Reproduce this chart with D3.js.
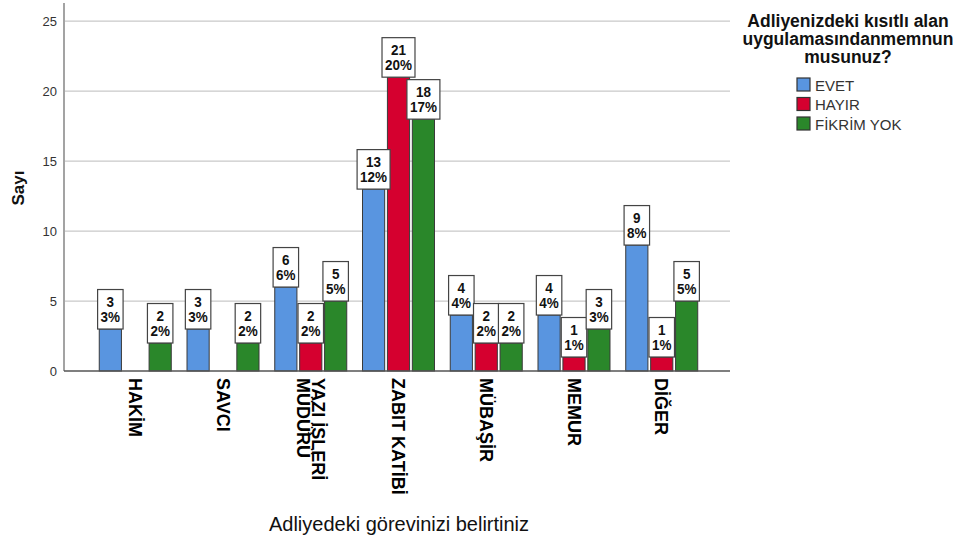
<!DOCTYPE html>
<html><head><meta charset="utf-8">
<script src="https://cdn.jsdelivr.net/npm/d3@7"></script>
<style>
html,body{margin:0;padding:0;background:#fff;}
svg{display:block;}
</style>
</head><body>
<svg id="chart" width="968" height="539"></svg>
<script>
// ---- data ----
const categories = ["HAKİM", "SAVCI", "YAZI İŞLERİ MÜDÜRÜ", "ZABIT KATİBİ", "MÜBAŞİR", "MEMUR", "DİĞER"];
const seriesNames = ["EVET", "HAYIR", "FİKRİM YOK"];
const evetValues  = [3, 3, 6, 13, 4, 4, 9];
const hayirValues = [0, 0, 2, 21, 2, 1, 1];
const fikrimValues = [2, 2, 5, 18, 2, 3, 5];
const evetPct  = ["3%", "3%", "6%", "12%", "4%", "4%", "8%"];
const hayirPct = ["", "", "2%", "20%", "2%", "1%", "1%"];
const fikrimPct = ["2%", "2%", "5%", "17%", "2%", "3%", "5%"];
const yTicks = [0, 5, 10, 15, 20, 25];
const yTitle = "Sayı";
const xTitle = "Adliyedeki görevinizi belirtiniz";
const legendTitle = ["Adliyenizdeki kısıtlı alan", "uygulamasındanmemnun", "musunuz?"];

const colors = {"EVET": "#5995e0", "HAYIR": "#d5002f", "FİKRİM YOK": "#2a872a"};
const seriesValues = {"EVET": evetValues, "HAYIR": hayirValues, "FİKRİM YOK": fikrimValues};
const seriesPct = {"EVET": evetPct, "HAYIR": hayirPct, "FİKRİM YOK": fikrimPct};

const svg = d3.select("#chart");
const pLeft = 64, pRight = 730, pBottom = 371, pTop = 3;

const y = d3.scaleLinear().domain([0, 26.3]).range([pBottom, pTop]);
const x0 = d3.scaleBand().domain(categories).range([pLeft + 1.5, pRight + 1.5]).paddingInner(0).paddingOuter(0.295);
const gw = 73;
const x1 = d3.scaleBand().domain(seriesNames)
  .range([(x0.bandwidth() - gw) / 2, (x0.bandwidth() + gw) / 2]).paddingInner(0.07).paddingOuter(0.0);

// gridlines
svg.append("g").selectAll("line").data(yTicks.filter(t => t > 0)).join("line")
  .attr("x1", pLeft + 1).attr("x2", pRight)
  .attr("y1", d => y(d)).attr("y2", d => y(d))
  .attr("stroke", "#c9c9c9").attr("stroke-width", 1.3);

// y axis
const yAxis = d3.axisLeft(y).tickValues(yTicks).tickSize(0).tickPadding(7);
const gy = svg.append("g").attr("transform", `translate(${pLeft},0)`).call(yAxis);
gy.select(".domain").remove();
gy.selectAll("text").attr("font-family", "Liberation Sans, Arial, sans-serif")
  .attr("font-size", 13).attr("fill", "#333");
svg.append("line").attr("x1", pLeft).attr("x2", pLeft).attr("y1", pTop).attr("y2", pBottom)
  .attr("stroke", "#8c8c8c").attr("stroke-width", 1.6);

// bars
const groups = svg.append("g").selectAll("g").data(categories).join("g")
  .attr("transform", d => `translate(${x0(d)},0)`);

const barData = (c, i) => seriesNames.map(s => ({s, v: seriesValues[s][i], p: seriesPct[s][i]}));

groups.each(function(c, i) {
  const g = d3.select(this);
  const data = barData(c, i).filter(d => d.v > 0);
  g.selectAll("rect.bar").data(data).join("rect").attr("class", "bar")
    .attr("x", d => x1(d.s) + 0.5).attr("width", x1.bandwidth() - 1)
    .attr("y", d => y(d.v)).attr("height", d => y(0) - y(d.v))
    .attr("fill", d => colors[d.s]).attr("stroke", "#3a3a3a").attr("stroke-width", 1);
});

// x axis line
svg.append("line").attr("x1", pLeft).attr("x2", pRight).attr("y1", pBottom).attr("y2", pBottom)
  .attr("stroke", "#555").attr("stroke-width", 1.5);

// value labels
const sx = 0.87;
groups.each(function(c, i) {
  const g = d3.select(this);
  const data = barData(c, i).filter(d => d.v > 0);
  data.forEach(d => {
    const cx = x1(d.s) + x1.bandwidth() / 2;
    const top0 = y(d.v) - 39.5;
    const lg = g.append("g");
    const rect = lg.append("rect");
    const t = lg.append("text")
      .attr("transform", `translate(${cx},${top0}) scale(${sx},1)`)
      .attr("text-anchor", "middle")
      .attr("font-family", "Liberation Sans, Arial, sans-serif")
      .attr("font-weight", "bold").attr("font-size", 15.5).attr("fill", "#111");
    const s1 = t.append("tspan").attr("x", 0).attr("y", 17.5).text(d.v);
    const s2 = t.append("tspan").attr("x", 0).attr("y", 32.5).text(d.p);
    const w = Math.max(s1.node().getComputedTextLength(), s2.node().getComputedTextLength()) * sx + 6;
    rect.attr("x", cx - w / 2).attr("y", top0).attr("width", w).attr("height", 39.5)
      .attr("fill", "#fff").attr("stroke", "#444").attr("stroke-width", 1.2);
  });
});

// x category labels (rotated, wrapped)
const labFont = 18;
svg.append("g").selectAll("g").data(categories).join("g")
  .attr("transform", d => `translate(${x0(d) + x0.bandwidth() / 2},378) rotate(90)`)
  .each(function(d) {
    const g = d3.select(this);
    const t = g.append("text").attr("font-family", "Liberation Sans, Arial, sans-serif")
      .attr("font-weight", "bold").attr("font-size", labFont).attr("fill", "#000");
    const words = d.split(" ");
    let lines = [], cur = "";
    const probe = t.append("tspan");
    words.forEach(wd => {
      const test = cur ? cur + " " + wd : wd;
      probe.text(test);
      if (probe.node().getComputedTextLength() > 130 && cur) { lines.push(cur); cur = wd; }
      else cur = test;
    });
    lines.push(cur);
    probe.remove();
    const lh = 15.5;
    const first = 0.35 * labFont - (lines.length - 1) * lh / 2;
    lines.forEach((ln, k) => {
      t.append("tspan").attr("x", 0).attr("y", first + k * lh).text(ln);
    });
  });

// axis titles
svg.append("text").attr("transform", "translate(24,188) rotate(-90)")
  .attr("text-anchor", "middle").attr("font-family", "Liberation Sans, Arial, sans-serif")
  .attr("font-weight", "bold").attr("font-size", 17).attr("fill", "#111").text(yTitle);
svg.append("text").attr("x", 399).attr("y", 531)
  .attr("text-anchor", "middle").attr("font-family", "Liberation Sans, Arial, sans-serif")
  .attr("font-size", 20).attr("fill", "#111").text(xTitle);

// legend
const lgd = svg.append("g");
lgd.selectAll("text.lt").data(legendTitle).join("text").attr("class", "lt")
  .attr("x", 848).attr("y", (d, i) => 27 + i * 18).attr("text-anchor", "middle")
  .attr("font-family", "Liberation Sans, Arial, sans-serif").attr("font-weight", "bold")
  .attr("font-size", 17.5).attr("fill", "#111").text(d => d);
const items = lgd.selectAll("g.it").data(seriesNames).join("g").attr("class", "it")
  .attr("transform", (d, i) => `translate(797,${78 + i * 19.5})`);
items.append("rect").attr("width", 13).attr("height", 13)
  .attr("fill", d => colors[d]).attr("stroke", "#333").attr("stroke-width", 1.2);
items.append("text").attr("x", 18).attr("y", 12.5)
  .attr("font-family", "Liberation Sans, Arial, sans-serif").attr("font-size", 15)
  .attr("fill", "#333").text(d => d);
</script>
</body></html>
